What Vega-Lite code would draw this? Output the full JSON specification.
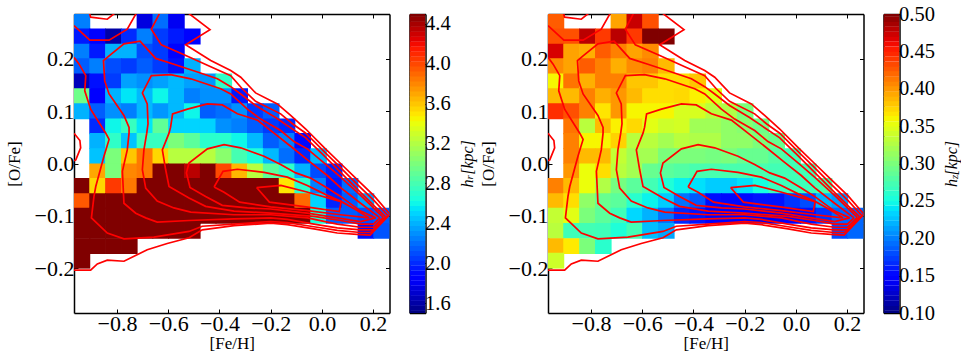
{
"$schema":"https://vega.github.io/schema/vega-lite/v6.json",
"background":"white",
"padding":{"left":5,"top":4,"right":0,"bottom":0},
"config":{"font":"Liberation Serif","concat":{"spacing":20},"view":{"stroke":null},
"axis":{"grid":false,"domainColor":"#000","domainWidth":1.5,"tickColor":"#000","tickWidth":1,"labelColor":"#000","titleColor":"#000","labelFont":"Liberation Serif","titleFont":"Liberation Serif","labelFontSize":22,"titleFontSize":17,"titleFontWeight":"normal","zindex":1}},
"datasets":{
"cells":[
{"f":-0.937,"o":0.272,"hr":2.25,"hz":0.425},{"f":-0.691,"o":0.272,"hr":1.75,"hz":0.395},{"f":-0.629,"o":0.272,"hr":2.2,"hz":0.475},{"f":-0.568,"o":0.272,"hr":1.8,"hz":0.43},
{"f":-0.937,"o":0.243,"hr":1.95,"hz":0.43},{"f":-0.876,"o":0.243,"hr":1.85,"hz":0.43},{"f":-0.814,"o":0.243,"hr":1.6,"hz":0.48},{"f":-0.752,"o":0.243,"hr":2.0,"hz":0.44},{"f":-0.691,"o":0.243,"hr":2.25,"hz":0.48},{"f":-0.629,"o":0.243,"hr":2.05,"hz":0.44},{"f":-0.568,"o":0.243,"hr":1.95,"hz":0.5},{"f":-0.506,"o":0.243,"hr":1.88,"hz":0.5},
{"f":-0.937,"o":0.214,"hr":2.25,"hz":0.47},{"f":-0.876,"o":0.214,"hr":1.95,"hz":0.395},{"f":-0.814,"o":0.214,"hr":2.4,"hz":0.39},{"f":-0.752,"o":0.214,"hr":2.4,"hz":0.425},{"f":-0.691,"o":0.214,"hr":2.1,"hz":0.41},{"f":-0.629,"o":0.214,"hr":2.05,"hz":0.395},{"f":-0.568,"o":0.214,"hr":1.88,"hz":0.405},
{"f":-0.937,"o":0.186,"hr":2.15,"hz":0.405},{"f":-0.876,"o":0.186,"hr":2.25,"hz":0.395},{"f":-0.814,"o":0.186,"hr":2.1,"hz":0.425},{"f":-0.752,"o":0.186,"hr":2.05,"hz":0.41},{"f":-0.691,"o":0.186,"hr":2.15,"hz":0.39},{"f":-0.629,"o":0.186,"hr":2.05,"hz":0.405},{"f":-0.568,"o":0.186,"hr":1.92,"hz":0.41},{"f":-0.506,"o":0.186,"hr":2.4,"hz":0.385},
{"f":-0.937,"o":0.157,"hr":1.65,"hz":0.36},{"f":-0.876,"o":0.157,"hr":1.92,"hz":0.415},{"f":-0.814,"o":0.157,"hr":2.05,"hz":0.39},{"f":-0.752,"o":0.157,"hr":2.35,"hz":0.41},{"f":-0.691,"o":0.157,"hr":2.3,"hz":0.41},{"f":-0.629,"o":0.157,"hr":2.35,"hz":0.38},{"f":-0.568,"o":0.157,"hr":2.42,"hz":0.38},{"f":-0.506,"o":0.157,"hr":2.35,"hz":0.37},{"f":-0.444,"o":0.157,"hr":2.32,"hz":0.37},{"f":-0.383,"o":0.157,"hr":2.72,"hz":0.38},
{"f":-0.937,"o":0.129,"hr":2.95,"hz":0.385},{"f":-0.876,"o":0.129,"hr":1.87,"hz":0.385},{"f":-0.814,"o":0.129,"hr":2.4,"hz":0.41},{"f":-0.752,"o":0.129,"hr":2.55,"hz":0.39},{"f":-0.691,"o":0.129,"hr":2.42,"hz":0.4},{"f":-0.629,"o":0.129,"hr":2.6,"hz":0.385},{"f":-0.568,"o":0.129,"hr":2.42,"hz":0.37},{"f":-0.506,"o":0.129,"hr":2.25,"hz":0.37},{"f":-0.444,"o":0.129,"hr":2.3,"hz":0.372},{"f":-0.383,"o":0.129,"hr":2.3,"hz":0.362},{"f":-0.321,"o":0.129,"hr":1.95,"hz":0.35},
{"f":-0.937,"o":0.1,"hr":2.4,"hz":0.445},{"f":-0.876,"o":0.1,"hr":2.15,"hz":0.43},{"f":-0.814,"o":0.1,"hr":2.3,"hz":0.41},{"f":-0.752,"o":0.1,"hr":2.25,"hz":0.367},{"f":-0.691,"o":0.1,"hr":2.42,"hz":0.4},{"f":-0.629,"o":0.1,"hr":2.32,"hz":0.36},{"f":-0.568,"o":0.1,"hr":2.42,"hz":0.36},{"f":-0.506,"o":0.1,"hr":2.6,"hz":0.36},{"f":-0.444,"o":0.1,"hr":2.15,"hz":0.345},{"f":-0.383,"o":0.1,"hr":2.2,"hz":0.345},{"f":-0.321,"o":0.1,"hr":2.3,"hz":0.33},{"f":-0.26,"o":0.1,"hr":2.05,"hz":0.325},{"f":-0.198,"o":0.1,"hr":2.15,"hz":0.3},
{"f":-0.876,"o":0.071,"hr":2.0,"hz":0.415},{"f":-0.814,"o":0.071,"hr":2.6,"hz":0.33},{"f":-0.752,"o":0.071,"hr":2.75,"hz":0.385},{"f":-0.691,"o":0.071,"hr":2.55,"hz":0.362},{"f":-0.629,"o":0.071,"hr":2.9,"hz":0.372},{"f":-0.568,"o":0.071,"hr":2.5,"hz":0.35},{"f":-0.506,"o":0.071,"hr":2.5,"hz":0.34},{"f":-0.444,"o":0.071,"hr":2.5,"hz":0.343},{"f":-0.383,"o":0.071,"hr":2.3,"hz":0.318},{"f":-0.321,"o":0.071,"hr":2.25,"hz":0.318},{"f":-0.26,"o":0.071,"hr":2.15,"hz":0.31},{"f":-0.198,"o":0.071,"hr":2.05,"hz":0.305},{"f":-0.136,"o":0.071,"hr":2.0,"hz":0.293},
{"f":-0.876,"o":0.043,"hr":2.4,"hz":0.41},{"f":-0.814,"o":0.043,"hr":2.72,"hz":0.36},{"f":-0.752,"o":0.043,"hr":2.45,"hz":0.36},{"f":-0.691,"o":0.043,"hr":2.75,"hz":0.375},{"f":-0.629,"o":0.043,"hr":2.75,"hz":0.33},{"f":-0.568,"o":0.043,"hr":3.0,"hz":0.33},{"f":-0.506,"o":0.043,"hr":2.88,"hz":0.32},{"f":-0.444,"o":0.043,"hr":2.7,"hz":0.33},{"f":-0.383,"o":0.043,"hr":2.7,"hz":0.325},{"f":-0.321,"o":0.043,"hr":2.6,"hz":0.325},{"f":-0.26,"o":0.043,"hr":2.42,"hz":0.31},{"f":-0.198,"o":0.043,"hr":2.15,"hz":0.31},{"f":-0.136,"o":0.043,"hr":2.25,"hz":0.3},{"f":-0.075,"o":0.043,"hr":1.9,"hz":0.29},
{"f":-0.876,"o":0.014,"hr":2.45,"hz":0.41},{"f":-0.814,"o":0.014,"hr":3.0,"hz":0.385},{"f":-0.752,"o":0.014,"hr":3.6,"hz":0.385},{"f":-0.691,"o":0.014,"hr":3.85,"hz":0.335},{"f":-0.629,"o":0.014,"hr":3.55,"hz":0.32},{"f":-0.568,"o":0.014,"hr":3.22,"hz":0.32},{"f":-0.506,"o":0.014,"hr":3.22,"hz":0.3},{"f":-0.444,"o":0.014,"hr":3.22,"hz":0.3},{"f":-0.383,"o":0.014,"hr":3.05,"hz":0.3},{"f":-0.321,"o":0.014,"hr":2.8,"hz":0.297},{"f":-0.26,"o":0.014,"hr":2.65,"hz":0.3},{"f":-0.198,"o":0.014,"hr":2.42,"hz":0.29},{"f":-0.136,"o":0.014,"hr":2.2,"hz":0.29},{"f":-0.075,"o":0.014,"hr":2.0,"hz":0.28},{"f":-0.013,"o":0.014,"hr":2.42,"hz":0.272},
{"f":-0.876,"o":-0.015,"hr":3.7,"hz":0.4},{"f":-0.814,"o":-0.015,"hr":3.0,"hz":0.355},{"f":-0.752,"o":-0.015,"hr":3.8,"hz":0.37},{"f":-0.691,"o":-0.015,"hr":3.85,"hz":0.33},{"f":-0.629,"o":-0.015,"hr":4.5,"hz":0.32},{"f":-0.568,"o":-0.015,"hr":4.5,"hz":0.29},{"f":-0.506,"o":-0.015,"hr":4.35,"hz":0.284},{"f":-0.444,"o":-0.015,"hr":4.5,"hz":0.28},{"f":-0.383,"o":-0.015,"hr":4.0,"hz":0.275},{"f":-0.321,"o":-0.015,"hr":3.65,"hz":0.275},{"f":-0.26,"o":-0.015,"hr":3.22,"hz":0.275},{"f":-0.198,"o":-0.015,"hr":2.88,"hz":0.275},{"f":-0.136,"o":-0.015,"hr":2.72,"hz":0.275},{"f":-0.075,"o":-0.015,"hr":2.4,"hz":0.272},{"f":-0.013,"o":-0.015,"hr":2.1,"hz":0.272},{"f":0.048,"o":-0.015,"hr":1.98,"hz":0.272},
{"f":-0.937,"o":-0.043,"hr":4.5,"hz":0.41},{"f":-0.876,"o":-0.043,"hr":3.55,"hz":0.385},{"f":-0.814,"o":-0.043,"hr":4.05,"hz":0.355},{"f":-0.752,"o":-0.043,"hr":3.85,"hz":0.326},{"f":-0.691,"o":-0.043,"hr":4.5,"hz":0.297},{"f":-0.629,"o":-0.043,"hr":4.5,"hz":0.284},{"f":-0.568,"o":-0.043,"hr":4.5,"hz":0.272},{"f":-0.506,"o":-0.043,"hr":4.5,"hz":0.255},{"f":-0.444,"o":-0.043,"hr":4.5,"hz":0.245},{"f":-0.383,"o":-0.043,"hr":4.5,"hz":0.238},{"f":-0.321,"o":-0.043,"hr":4.5,"hz":0.23},{"f":-0.26,"o":-0.043,"hr":4.5,"hz":0.23},{"f":-0.198,"o":-0.043,"hr":4.5,"hz":0.238},{"f":-0.136,"o":-0.043,"hr":3.5,"hz":0.25},{"f":-0.075,"o":-0.043,"hr":2.7,"hz":0.268},{"f":-0.013,"o":-0.043,"hr":2.25,"hz":0.27},{"f":0.048,"o":-0.043,"hr":1.95,"hz":0.27},{"f":0.11,"o":-0.043,"hr":2.2,"hz":0.275},
{"f":-0.937,"o":-0.072,"hr":3.95,"hz":0.385},{"f":-0.876,"o":-0.072,"hr":4.5,"hz":0.37},{"f":-0.814,"o":-0.072,"hr":4.5,"hz":0.31},{"f":-0.752,"o":-0.072,"hr":4.5,"hz":0.29},{"f":-0.691,"o":-0.072,"hr":4.5,"hz":0.284},{"f":-0.629,"o":-0.072,"hr":4.5,"hz":0.26},{"f":-0.568,"o":-0.072,"hr":4.5,"hz":0.245},{"f":-0.506,"o":-0.072,"hr":4.5,"hz":0.23},{"f":-0.444,"o":-0.072,"hr":4.5,"hz":0.195},{"f":-0.383,"o":-0.072,"hr":4.5,"hz":0.185},{"f":-0.321,"o":-0.072,"hr":4.5,"hz":0.155},{"f":-0.26,"o":-0.072,"hr":4.5,"hz":0.153},{"f":-0.198,"o":-0.072,"hr":4.5,"hz":0.153},{"f":-0.136,"o":-0.072,"hr":4.5,"hz":0.157},{"f":-0.075,"o":-0.072,"hr":3.9,"hz":0.157},{"f":-0.013,"o":-0.072,"hr":2.5,"hz":0.17},{"f":0.048,"o":-0.072,"hr":1.98,"hz":0.18},{"f":0.11,"o":-0.072,"hr":2.15,"hz":0.22},{"f":0.172,"o":-0.072,"hr":2.35,"hz":0.21},
{"f":-0.937,"o":-0.1,"hr":4.5,"hz":0.335},{"f":-0.876,"o":-0.1,"hr":4.5,"hz":0.35},{"f":-0.814,"o":-0.1,"hr":4.5,"hz":0.3},{"f":-0.752,"o":-0.1,"hr":4.5,"hz":0.285},{"f":-0.691,"o":-0.1,"hr":4.5,"hz":0.27},{"f":-0.629,"o":-0.1,"hr":4.5,"hz":0.235},{"f":-0.568,"o":-0.1,"hr":4.5,"hz":0.22},{"f":-0.506,"o":-0.1,"hr":4.5,"hz":0.195},{"f":-0.444,"o":-0.1,"hr":4.5,"hz":0.165},{"f":-0.383,"o":-0.1,"hr":4.5,"hz":0.157},{"f":-0.321,"o":-0.1,"hr":4.5,"hz":0.15},{"f":-0.26,"o":-0.1,"hr":4.5,"hz":0.15},{"f":-0.198,"o":-0.1,"hr":4.5,"hz":0.15},{"f":-0.136,"o":-0.1,"hr":4.5,"hz":0.14},{"f":-0.075,"o":-0.1,"hr":4.5,"hz":0.14},{"f":-0.013,"o":-0.1,"hr":2.65,"hz":0.145},{"f":0.048,"o":-0.1,"hr":2.15,"hz":0.157},{"f":0.11,"o":-0.1,"hr":2.15,"hz":0.17},{"f":0.172,"o":-0.1,"hr":2.1,"hz":0.19},{"f":0.233,"o":-0.1,"hr":2.15,"hz":0.19},
{"f":-0.937,"o":-0.129,"hr":4.5,"hz":0.33},{"f":-0.876,"o":-0.129,"hr":4.5,"hz":0.27},{"f":-0.814,"o":-0.129,"hr":4.5,"hz":0.272},{"f":-0.752,"o":-0.129,"hr":4.5,"hz":0.27},{"f":-0.691,"o":-0.129,"hr":4.5,"hz":0.255},{"f":-0.629,"o":-0.129,"hr":4.5,"hz":0.272},{"f":-0.568,"o":-0.129,"hr":4.5,"hz":0.225},{"f":-0.506,"o":-0.129,"hr":4.5,"hz":0.215},{"f":0.172,"o":-0.129,"hr":1.92,"hz":0.18},{"f":0.233,"o":-0.129,"hr":2.12,"hz":0.19},
{"f":-0.937,"o":-0.158,"hr":4.5,"hz":0.385},{"f":-0.876,"o":-0.158,"hr":4.5,"hz":0.365},{"f":-0.814,"o":-0.158,"hr":4.5,"hz":0.3},{"f":-0.752,"o":-0.158,"hr":4.5,"hz":0.26},
{"f":-0.937,"o":-0.186,"hr":4.5,"hz":0.34}
],
"contours":[
{"c":"1","f":-0.968,"o":-0.204},{"c":"1","f":-0.903,"o":-0.204},{"c":"1","f":-0.877,"o":-0.192},{"c":"1","f":-0.838,"o":-0.185},{"c":"1","f":-0.773,"o":-0.187},{"c":"1","f":-0.682,"o":-0.165},{"c":"1","f":-0.604,"o":-0.153},{"c":"1","f":-0.519,"o":-0.142},{"c":"1","f":-0.467,"o":-0.127},{"c":"1","f":-0.343,"o":-0.119},{"c":"1","f":-0.2,"o":-0.114},{"c":"1","f":-0.135,"o":-0.117},{"c":"1","f":-0.031,"o":-0.125},{"c":"1","f":0.06,"o":-0.133},{"c":"1","f":0.151,"o":-0.136},{"c":"1","f":0.188,"o":-0.137},{"c":"1","f":0.266,"o":-0.097},{"c":"1","f":0.204,"o":-0.062},{"c":"1","f":0.138,"o":-0.031},{"c":"1","f":0.073,"o":0.0},{"c":"1","f":0.008,"o":0.031},{"c":"1","f":-0.063,"o":0.066},{"c":"1","f":-0.122,"o":0.092},{"c":"1","f":-0.174,"o":0.114},{"c":"1","f":-0.259,"o":0.135},{"c":"1","f":-0.317,"o":0.165},{"c":"1","f":-0.356,"o":0.178},{"c":"1","f":-0.434,"o":0.197},{"c":"1","f":-0.532,"o":0.227},{"c":"1","f":-0.437,"o":0.256},{"c":"1","f":-0.525,"o":0.289},
{"c":"1b","f":-0.968,"o":0.058},{"c":"1b","f":-0.945,"o":0.044},{"c":"1b","f":-0.942,"o":0.03},{"c":"1b","f":-0.961,"o":0.007},{"c":"1b","f":-0.968,"o":0.005},
{"c":"1c","f":-0.909,"o":0.289},{"c":"1c","f":-0.903,"o":0.28},{"c":"1c","f":-0.838,"o":0.276},{"c":"1c","f":-0.805,"o":0.289},
{"c":"2b","f":-0.968,"o":0.264},{"c":"2b","f":-0.906,"o":0.236},{"c":"2b","f":-0.831,"o":0.236},{"c":"2b","f":-0.76,"o":0.257},{"c":"2b","f":-0.723,"o":0.289},
{"c":"2","f":-0.968,"o":0.203},{"c":"2","f":-0.948,"o":0.19},{"c":"2","f":-0.922,"o":0.168},{"c":"2","f":-0.926,"o":0.139},{"c":"2","f":-0.903,"o":0.104},{"c":"2","f":-0.844,"o":0.058},{"c":"2","f":-0.831,"o":0.046},{"c":"2","f":-0.851,"o":0.014},{"c":"2","f":-0.883,"o":-0.044},{"c":"2","f":-0.89,"o":-0.063},{"c":"2","f":-0.9,"o":-0.104},{"c":"2","f":-0.838,"o":-0.133},{"c":"2","f":-0.773,"o":-0.144},{"c":"2","f":-0.656,"o":-0.141},{"c":"2","f":-0.519,"o":-0.13},{"c":"2","f":-0.467,"o":-0.12},{"c":"2","f":-0.343,"o":-0.116},{"c":"2","f":-0.2,"o":-0.111},{"c":"2","f":-0.135,"o":-0.113},{"c":"2","f":-0.031,"o":-0.121},{"c":"2","f":0.06,"o":-0.128},{"c":"2","f":0.151,"o":-0.132},{"c":"2","f":0.19,"o":-0.132},{"c":"2","f":0.258,"o":-0.1},{"c":"2","f":0.204,"o":-0.071},{"c":"2","f":0.138,"o":-0.04},{"c":"2","f":0.073,"o":-0.008},{"c":"2","f":0.008,"o":0.023},{"c":"2","f":-0.063,"o":0.058},{"c":"2","f":-0.115,"o":0.076},{"c":"2","f":-0.161,"o":0.095},{"c":"2","f":-0.259,"o":0.119},{"c":"2","f":-0.311,"o":0.143},{"c":"2","f":-0.356,"o":0.168},{"c":"2","f":-0.434,"o":0.185},{"c":"2","f":-0.538,"o":0.208},{"c":"2","f":-0.627,"o":0.227},{"c":"2","f":-0.666,"o":0.257},{"c":"2","f":-0.632,"o":0.289},
{"c":"3","f":0.249,"o":-0.102},{"c":"3","f":0.204,"o":-0.081},{"c":"3","f":0.138,"o":-0.049},{"c":"3","f":0.073,"o":-0.017},{"c":"3","f":0.008,"o":0.015},{"c":"3","f":-0.063,"o":0.049},{"c":"3","f":-0.115,"o":0.066},{"c":"3","f":-0.181,"o":0.088},{"c":"3","f":-0.259,"o":0.111},{"c":"3","f":-0.317,"o":0.133},{"c":"3","f":-0.356,"o":0.147},{"c":"3","f":-0.408,"o":0.162},{"c":"3","f":-0.48,"o":0.174},{"c":"3","f":-0.578,"o":0.19},{"c":"3","f":-0.649,"o":0.201},{"c":"3","f":-0.71,"o":0.234},{"c":"3","f":-0.773,"o":0.229},{"c":"3","f":-0.831,"o":0.206},{"c":"3","f":-0.853,"o":0.197},{"c":"3","f":-0.848,"o":0.158},{"c":"3","f":-0.831,"o":0.133},{"c":"3","f":-0.773,"o":0.092},{"c":"3","f":-0.753,"o":0.069},{"c":"3","f":-0.753,"o":0.058},{"c":"3","f":-0.76,"o":0.026},{"c":"3","f":-0.779,"o":-0.015},{"c":"3","f":-0.773,"o":-0.076},{"c":"3","f":-0.727,"o":-0.095},{"c":"3","f":-0.688,"o":-0.104},{"c":"3","f":-0.643,"o":-0.112},{"c":"3","f":-0.519,"o":-0.109},{"c":"3","f":-0.343,"o":-0.106},{"c":"3","f":-0.2,"o":-0.104},{"c":"3","f":-0.135,"o":-0.107},{"c":"3","f":-0.031,"o":-0.116},{"c":"3","f":0.06,"o":-0.123},{"c":"3","f":0.151,"o":-0.127},{"c":"3","f":0.201,"o":-0.127},{"c":"3","f":0.249,"o":-0.102},
{"c":"4","f":0.24,"o":-0.103},{"c":"4","f":0.151,"o":-0.061},{"c":"4","f":0.073,"o":-0.026},{"c":"4","f":0.021,"o":-0.004},{"c":"4","f":-0.057,"o":0.028},{"c":"4","f":-0.109,"o":0.042},{"c":"4","f":-0.161,"o":0.063},{"c":"4","f":-0.239,"o":0.085},{"c":"4","f":-0.291,"o":0.104},{"c":"4","f":-0.356,"o":0.133},{"c":"4","f":-0.395,"o":0.143},{"c":"4","f":-0.512,"o":0.162},{"c":"4","f":-0.591,"o":0.17},{"c":"4","f":-0.666,"o":0.168},{"c":"4","f":-0.701,"o":0.135},{"c":"4","f":-0.682,"o":0.114},{"c":"4","f":-0.679,"o":0.076},{"c":"4","f":-0.684,"o":0.058},{"c":"4","f":-0.695,"o":0.026},{"c":"4","f":-0.701,"o":-0.012},{"c":"4","f":-0.688,"o":-0.047},{"c":"4","f":-0.643,"o":-0.072},{"c":"4","f":-0.578,"o":-0.085},{"c":"4","f":-0.512,"o":-0.093},{"c":"4","f":-0.343,"o":-0.098},{"c":"4","f":-0.2,"o":-0.098},{"c":"4","f":-0.057,"o":-0.104},{"c":"4","f":0.06,"o":-0.116},{"c":"4","f":0.151,"o":-0.122},{"c":"4","f":0.201,"o":-0.122},{"c":"4","f":0.24,"o":-0.103},
{"c":"5","f":0.227,"o":-0.104},{"c":"5","f":0.151,"o":-0.076},{"c":"5","f":0.073,"o":-0.046},{"c":"5","f":0.021,"o":-0.023},{"c":"5","f":-0.044,"o":0.002},{"c":"5","f":-0.122,"o":0.033},{"c":"5","f":-0.187,"o":0.058},{"c":"5","f":-0.252,"o":0.083},{"c":"5","f":-0.33,"o":0.095},{"c":"5","f":-0.389,"o":0.112},{"c":"5","f":-0.447,"o":0.114},{"c":"5","f":-0.525,"o":0.104},{"c":"5","f":-0.583,"o":0.095},{"c":"5","f":-0.591,"o":0.069},{"c":"5","f":-0.597,"o":0.058},{"c":"5","f":-0.623,"o":0.026},{"c":"5","f":-0.61,"o":-0.012},{"c":"5","f":-0.597,"o":-0.044},{"c":"5","f":-0.519,"o":-0.066},{"c":"5","f":-0.454,"o":-0.082},{"c":"5","f":-0.343,"o":-0.091},{"c":"5","f":-0.2,"o":-0.095},{"c":"5","f":-0.031,"o":-0.101},{"c":"5","f":0.073,"o":-0.109},{"c":"5","f":0.151,"o":-0.116},{"c":"5","f":0.201,"o":-0.116},{"c":"5","f":0.227,"o":-0.104},
{"c":"6","f":0.21,"o":-0.104},{"c":"6","f":0.151,"o":-0.091},{"c":"6","f":0.073,"o":-0.063},{"c":"6","f":0.021,"o":-0.047},{"c":"6","f":-0.044,"o":-0.028},{"c":"6","f":-0.102,"o":-0.018},{"c":"6","f":-0.161,"o":-0.002},{"c":"6","f":-0.226,"o":0.014},{"c":"6","f":-0.317,"o":0.03},{"c":"6","f":-0.382,"o":0.036},{"c":"6","f":-0.447,"o":0.028},{"c":"6","f":-0.519,"o":0.001},{"c":"6","f":-0.529,"o":-0.018},{"c":"6","f":-0.515,"o":-0.046},{"c":"6","f":-0.454,"o":-0.063},{"c":"6","f":-0.389,"o":-0.08},{"c":"6","f":-0.291,"o":-0.085},{"c":"6","f":-0.2,"o":-0.087},{"c":"6","f":-0.057,"o":-0.095},{"c":"6","f":0.073,"o":-0.105},{"c":"6","f":0.151,"o":-0.111},{"c":"6","f":0.21,"o":-0.104},
{"c":"7","f":-0.421,"o":-0.045},{"c":"7","f":-0.386,"o":-0.015},{"c":"7","f":-0.33,"o":-0.011},{"c":"7","f":-0.226,"o":-0.017},{"c":"7","f":-0.135,"o":-0.026},{"c":"7","f":-0.057,"o":-0.042},{"c":"7","f":0.021,"o":-0.061},{"c":"7","f":0.073,"o":-0.072},{"c":"7","f":0.138,"o":-0.09},{"c":"7","f":0.184,"o":-0.104},{"c":"7","f":0.073,"o":-0.098},{"c":"7","f":-0.057,"o":-0.09},{"c":"7","f":-0.2,"o":-0.083},{"c":"7","f":-0.321,"o":-0.074},{"c":"7","f":-0.382,"o":-0.055},{"c":"7","f":-0.421,"o":-0.045},
{"c":"8","f":-0.255,"o":-0.046},{"c":"8","f":-0.16,"o":-0.042},{"c":"8","f":-0.062,"o":-0.054},{"c":"8","f":0.075,"o":-0.073},{"c":"8","f":0.068,"o":-0.092},{"c":"8","f":-0.062,"o":-0.083},{"c":"8","f":-0.205,"o":-0.074},{"c":"8","f":-0.255,"o":-0.046}
],
"barR":[{"v":1.5},{"v":1.55},{"v":1.6},{"v":1.65},{"v":1.7},{"v":1.75},{"v":1.8},{"v":1.85},{"v":1.9},{"v":1.95},{"v":2.0},{"v":2.05},{"v":2.1},{"v":2.15},{"v":2.2},{"v":2.25},{"v":2.3},{"v":2.35},{"v":2.4},{"v":2.45},{"v":2.5},{"v":2.55},{"v":2.6},{"v":2.65},{"v":2.7},{"v":2.75},{"v":2.8},{"v":2.85},{"v":2.9},{"v":2.95},{"v":3.0},{"v":3.05},{"v":3.1},{"v":3.15},{"v":3.2},{"v":3.25},{"v":3.3},{"v":3.35},{"v":3.4},{"v":3.45},{"v":3.5},{"v":3.55},{"v":3.6},{"v":3.65},{"v":3.7},{"v":3.75},{"v":3.8},{"v":3.85},{"v":3.9},{"v":3.95},{"v":4.0},{"v":4.05},{"v":4.1},{"v":4.15},{"v":4.2},{"v":4.25},{"v":4.3},{"v":4.35},{"v":4.4},{"v":4.45},{"v":4.5}],
"barZ":[{"v":0.1},{"v":0.107},{"v":0.113},{"v":0.12},{"v":0.127},{"v":0.133},{"v":0.14},{"v":0.147},{"v":0.153},{"v":0.16},{"v":0.167},{"v":0.173},{"v":0.18},{"v":0.187},{"v":0.193},{"v":0.2},{"v":0.207},{"v":0.213},{"v":0.22},{"v":0.227},{"v":0.233},{"v":0.24},{"v":0.247},{"v":0.253},{"v":0.26},{"v":0.267},{"v":0.273},{"v":0.28},{"v":0.287},{"v":0.293},{"v":0.3},{"v":0.307},{"v":0.313},{"v":0.32},{"v":0.327},{"v":0.333},{"v":0.34},{"v":0.347},{"v":0.353},{"v":0.36},{"v":0.367},{"v":0.373},{"v":0.38},{"v":0.387},{"v":0.393},{"v":0.4},{"v":0.407},{"v":0.413},{"v":0.42},{"v":0.427},{"v":0.433},{"v":0.44},{"v":0.447},{"v":0.453},{"v":0.46},{"v":0.467},{"v":0.473},{"v":0.48},{"v":0.487},{"v":0.493},{"v":0.5}],
"labelR":[{"x":3.63,"y":2.8,"t":"h","s":16},{"x":3.78,"y":2.86,"t":"r","s":11},{"x":3.63,"y":3.06,"t":"[kpc]","s":16}],
"labelZ":[{"x":4.3,"y":0.274,"t":"h","s":16},{"x":4.45,"y":0.282,"t":"z","s":11},{"x":4.3,"y":0.307,"t":"[kpc]","s":16}]
},
"hconcat":[
{"bounds":"flush","spacing":19.5,"resolve":{"scale":{"color":"independent","size":"independent"}},"hconcat":[
{"width":315.5,"height":299,"resolve":{"axis":{"x":"independent","y":"independent"}},"layer":[
{"data":{"name":"cells"},"mark":{"type":"rect","width":16.6,"height":15.8,"clip":true,"strokeWidth":0,"opacity":1},"encoding":{
"x":{"field":"f","type":"quantitative","scale":{"domain":[-0.968,0.264],"nice":false,"zero":false},"axis":{"orient":"bottom","values":[-0.8,-0.6,-0.4,-0.2,0,0.2],"format":".1f","tickSize":-4,"labelPadding":4,"title":"[Fe/H]","titlePadding":1}},
"y":{"field":"o","type":"quantitative","scale":{"domain":[-0.286,0.286],"nice":false,"zero":false},"axis":{"orient":"left","values":[-0.2,-0.1,0,0.1,0.2],"format":".1f","tickSize":-4,"labelPadding":4,"title":"[O/Fe]","titlePadding":11}},
"color":{"field":"hr","type":"quantitative","legend":null,"scale":{"interpolate":"rgb","domain":[1.5,1.83,1.875,2.52,2.55,2.625,3.42,3.45,3.48,4.17,4.23,4.5],"range":["#000080","#0000ff","#0000ff","#00dbff","#00e6f7","#15ffe2","#eeff08","#f7f600","#ffec00","#ff1300","#e80000","#800000"]}}}},
{"data":{"name":"contours"},"mark":{"type":"line","order":false,"clip":true,"color":"#ff0000","strokeWidth":1.7},"encoding":{
"x":{"field":"f","type":"quantitative","axis":{"orient":"top","values":[-0.8,-0.6,-0.4,-0.2,0,0.2],"labels":false,"tickSize":-4,"title":null}},
"y":{"field":"o","type":"quantitative","axis":{"orient":"right","values":[-0.2,-0.1,0,0.1,0.2],"labels":false,"tickSize":-4,"title":null}},
"detail":{"field":"c"}}}
]},
{"width":16,"height":299,"resolve":{"axis":{"x":"independent","y":"independent"}},"layer":[
{"data":{"name":"barR"},"mark":{"type":"rect","height":5.4,"clip":true},"encoding":{
"x":{"datum":0,"type":"quantitative","scale":{"domain":[0,1]},"axis":{"orient":"top","ticks":false,"labels":false,"title":null}},
"x2":{"datum":1},
"y":{"field":"v","type":"quantitative","scale":{"domain":[1.5,4.5],"nice":false,"zero":false},"axis":{"orient":"right","values":[1.6,2.0,2.4,2.8,3.2,3.6,4.0,4.4],"format":".1f","tickSize":-4,"labelPadding":3,"labelFontSize":20.5,"title":null}},
"color":{"field":"v","type":"quantitative","legend":null,"scale":{"interpolate":"rgb","domain":[1.5,1.83,1.875,2.52,2.55,2.625,3.42,3.45,3.48,4.17,4.23,4.5],"range":["#000080","#0000ff","#0000ff","#00dbff","#00e6f7","#15ffe2","#eeff08","#f7f600","#ffec00","#ff1300","#e80000","#800000"]}}}},
{"data":{"name":"labelR"},"mark":{"type":"text","angle":270,"fontStyle":"italic","align":"center","baseline":"middle","font":"Liberation Serif","color":"#000"},"encoding":{
"x":{"field":"x","type":"quantitative","axis":{"orient":"bottom","ticks":false,"labels":false,"title":null}},
"y":{"field":"y","type":"quantitative","axis":{"orient":"left","ticks":false,"labels":false,"title":null}},
"size":{"field":"s","type":"quantitative","scale":null,"legend":null},
"text":{"field":"t"}}}
]}
]},
{"bounds":"flush","spacing":19.5,"resolve":{"scale":{"color":"independent","size":"independent"}},"hconcat":[
{"width":315.5,"height":299,"resolve":{"axis":{"x":"independent","y":"independent"}},"layer":[
{"data":{"name":"cells"},"mark":{"type":"rect","width":16.6,"height":15.8,"clip":true,"strokeWidth":0,"opacity":1},"encoding":{
"x":{"field":"f","type":"quantitative","scale":{"domain":[-0.968,0.264],"nice":false,"zero":false},"axis":{"orient":"bottom","values":[-0.8,-0.6,-0.4,-0.2,0,0.2],"format":".1f","tickSize":-4,"labelPadding":4,"title":"[Fe/H]","titlePadding":1}},
"y":{"field":"o","type":"quantitative","scale":{"domain":[-0.286,0.286],"nice":false,"zero":false},"axis":{"orient":"left","values":[-0.2,-0.1,0,0.1,0.2],"format":".1f","tickSize":-4,"labelPadding":4,"title":"[O/Fe]","titlePadding":11}},
"color":{"field":"hz","type":"quantitative","legend":null,"scale":{"interpolate":"rgb","domain":[0.1,0.144,0.15,0.236,0.24,0.25,0.356,0.36,0.364,0.456,0.464,0.5],"range":["#000080","#0000ff","#0000ff","#00dbff","#00e6f7","#15ffe2","#eeff08","#f7f600","#ffec00","#ff1300","#e80000","#800000"]}}}},
{"data":{"name":"contours"},"mark":{"type":"line","order":false,"clip":true,"color":"#ff0000","strokeWidth":1.7},"encoding":{
"x":{"field":"f","type":"quantitative","axis":{"orient":"top","values":[-0.8,-0.6,-0.4,-0.2,0,0.2],"labels":false,"tickSize":-4,"title":null}},
"y":{"field":"o","type":"quantitative","axis":{"orient":"right","values":[-0.2,-0.1,0,0.1,0.2],"labels":false,"tickSize":-4,"title":null}},
"detail":{"field":"c"}}}
]},
{"width":16,"height":299,"resolve":{"axis":{"x":"independent","y":"independent"}},"layer":[
{"data":{"name":"barZ"},"mark":{"type":"rect","height":5.4,"clip":true},"encoding":{
"x":{"datum":0,"type":"quantitative","scale":{"domain":[0,1]},"axis":{"orient":"top","ticks":false,"labels":false,"title":null}},
"x2":{"datum":1},
"y":{"field":"v","type":"quantitative","scale":{"domain":[0.1,0.5],"nice":false,"zero":false},"axis":{"orient":"right","values":[0.1,0.15,0.2,0.25,0.3,0.35,0.4,0.45,0.5],"format":".2f","tickSize":-4,"labelPadding":3,"labelFontSize":20.5,"title":null}},
"color":{"field":"v","type":"quantitative","legend":null,"scale":{"interpolate":"rgb","domain":[0.1,0.144,0.15,0.236,0.24,0.25,0.356,0.36,0.364,0.456,0.464,0.5],"range":["#000080","#0000ff","#0000ff","#00dbff","#00e6f7","#15ffe2","#eeff08","#f7f600","#ffec00","#ff1300","#e80000","#800000"]}}}},
{"data":{"name":"labelZ"},"mark":{"type":"text","angle":270,"fontStyle":"italic","align":"center","baseline":"middle","font":"Liberation Serif","color":"#000"},"encoding":{
"x":{"field":"x","type":"quantitative","axis":{"orient":"bottom","ticks":false,"labels":false,"title":null}},
"y":{"field":"y","type":"quantitative","axis":{"orient":"left","ticks":false,"labels":false,"title":null}},
"size":{"field":"s","type":"quantitative","scale":null,"legend":null},
"text":{"field":"t"}}}
]}
]}
],
"resolve":{"scale":{"color":"independent","size":"independent"}},
"spacing":3
}
